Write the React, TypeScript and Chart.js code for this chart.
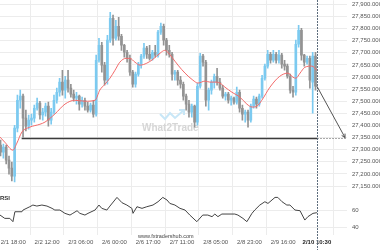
import React, { useEffect, useRef } from "react";
import { Chart, registerables } from "chart.js";
Chart.register(...registerables);

// ---- data ----
const timeLabels = ["2/1 18:00", "2/2 12:00", "2/3 06:00", "2/6 00:00", "2/6 17:00", "2/7 11:00", "2/8 05:00", "2/8 23:00", "2/9 16:00", "2/10 10:30"];
const timeLabelIndex = [4.5, 16.5, 28.5, 40.5, 52.5, 64.5, 76.5, 88.5, 100.5, 112.5];

const opens = [27319, 27290, 27311, 27257, 27224, 27191, 27389, 27504, 27521, 27430, 27397, 27422, 27430, 27471, 27492, 27443, 27455, 27480, 27422, 27455, 27504, 27537, 27579, 27546, 27587, 27554, 27529, 27513, 27521, 27488, 27504, 27480, 27463, 27484, 27447, 27669, 27731, 27649, 27587, 27752, 27842, 27760, 27809, 27768, 27731, 27702, 27677, 27620, 27570, 27612, 27653, 27686, 27719, 27694, 27677, 27702, 27690, 27785, 27809, 27752, 27710, 27694, 27612, 27620, 27587, 27570, 27521, 27488, 27455, 27480, 27414, 27562, 27686, 27661, 27504, 27546, 27579, 27603, 27579, 27554, 27521, 27529, 27504, 27513, 27496, 27537, 27471, 27447, 27455, 27422, 27480, 27509, 27488, 27521, 27595, 27645, 27694, 27669, 27694, 27669, 27690, 27653, 27645, 27603, 27546, 27537, 27735, 27793, 27690, 27661, 27677, 27579, 27686];
const highs = [27340, 27323, 27319, 27274, 27249, 27401, 27525, 27546, 27529, 27463, 27443, 27447, 27484, 27513, 27500, 27471, 27492, 27496, 27471, 27525, 27554, 27595, 27628, 27603, 27628, 27570, 27546, 27537, 27525, 27517, 27513, 27496, 27492, 27504, 27690, 27760, 27743, 27661, 27772, 27867, 27855, 27834, 27846, 27776, 27735, 27710, 27690, 27628, 27620, 27661, 27694, 27739, 27727, 27731, 27710, 27731, 27793, 27822, 27818, 27760, 27731, 27702, 27628, 27628, 27603, 27579, 27529, 27504, 27488, 27484, 27574, 27698, 27694, 27669, 27554, 27587, 27612, 27636, 27595, 27566, 27537, 27537, 27521, 27517, 27558, 27546, 27484, 27463, 27463, 27488, 27521, 27517, 27529, 27607, 27653, 27710, 27702, 27710, 27702, 27710, 27698, 27669, 27653, 27612, 27562, 27752, 27813, 27801, 27694, 27686, 27686, 27702, 27702];
const lows = [27274, 27265, 27241, 27199, 27171, 27167, 27373, 27471, 27352, 27377, 27385, 27401, 27414, 27463, 27426, 27422, 27438, 27397, 27405, 27447, 27492, 27521, 27525, 27513, 27537, 27517, 27500, 27488, 27463, 27476, 27463, 27455, 27455, 27434, 27438, 27661, 27620, 27566, 27570, 27743, 27731, 27752, 27752, 27710, 27682, 27661, 27607, 27558, 27558, 27603, 27636, 27677, 27677, 27669, 27669, 27682, 27682, 27776, 27731, 27690, 27682, 27587, 27587, 27566, 27554, 27504, 27463, 27434, 27434, 27393, 27401, 27554, 27645, 27480, 27463, 27529, 27554, 27566, 27546, 27513, 27504, 27492, 27484, 27488, 27488, 27455, 27422, 27414, 27393, 27414, 27471, 27471, 27480, 27513, 27587, 27636, 27657, 27661, 27657, 27657, 27636, 27628, 27595, 27533, 27517, 27525, 27723, 27669, 27645, 27653, 27554, 27451, 27546];
const closes = [27290, 27311, 27257, 27224, 27191, 27389, 27504, 27521, 27430, 27397, 27422, 27430, 27471, 27492, 27443, 27455, 27480, 27422, 27455, 27504, 27537, 27579, 27546, 27587, 27554, 27529, 27513, 27521, 27488, 27504, 27480, 27463, 27484, 27447, 27669, 27731, 27649, 27587, 27752, 27842, 27760, 27809, 27768, 27731, 27702, 27677, 27620, 27570, 27612, 27653, 27686, 27719, 27694, 27677, 27702, 27690, 27785, 27809, 27752, 27710, 27694, 27612, 27620, 27587, 27570, 27521, 27488, 27455, 27480, 27414, 27562, 27686, 27661, 27504, 27546, 27579, 27603, 27579, 27554, 27521, 27529, 27504, 27513, 27496, 27537, 27471, 27447, 27455, 27422, 27480, 27509, 27488, 27521, 27595, 27645, 27694, 27669, 27694, 27669, 27690, 27653, 27645, 27603, 27546, 27537, 27735, 27793, 27690, 27661, 27677, 27587, 27686, 27562];

const maX = [-0.2, 1.5, 4.4, 5.8, 7.6, 10.4, 14, 15.8, 19.3, 22.9, 26.4, 30, 33.6, 35.3, 37.1, 38.9, 40.7, 42.4, 44.6, 46, 47.8, 49.6, 52, 54.2, 56.7, 58.4, 59.5, 60.9, 63.1, 65.6, 68.4, 70.2, 72.7, 74.4, 76.2, 78, 79.8, 82.3, 85.1, 87.6, 89.4, 91.2, 92.9, 95.8, 99.3, 102.2, 104, 105, 106.5, 108.2, 110.7, 112.5];
const maValues = [27352, 27331, 27298, 27327, 27373, 27393, 27405, 27414, 27447, 27488, 27504, 27500, 27504, 27546, 27570, 27595, 27628, 27661, 27677, 27677, 27661, 27649, 27657, 27673, 27698, 27710, 27702, 27682, 27649, 27616, 27587, 27575, 27583, 27579, 27579, 27575, 27558, 27537, 27517, 27488, 27476, 27480, 27504, 27558, 27603, 27616, 27599, 27595, 27616, 27640, 27645, 27628];

const rsiX = [-0.2, 1.5, 3.3, 4.4, 5.1, 7.6, 8.0, 10.4, 11.5, 12.9, 14.7, 16.5, 18.3, 19.3, 21.1, 22.9, 24.7, 25.7, 27.2, 28.2, 30, 31.1, 33.6, 35, 36, 37.8, 38.9, 41.4, 43.2, 44.9, 46.7, 47.1, 48.5, 50.3, 52, 54.2, 56, 57.7, 59.2, 60.2, 62, 63.8, 65.6, 67.3, 69.8, 71.9, 73.7, 75.2, 76.2, 77.3, 78.7, 83.3, 84.4, 86.2, 87.6, 89.4, 90.4, 92.2, 94, 95.1, 97.6, 98.6, 100.1, 101.8, 102.9, 104.7, 106.5, 108.2, 109.3, 111.1, 112.5];
const rsiValues = [54.1, 50.2, 50.2, 46.3, 58, 58, 60, 63.9, 65.9, 64.7, 65.9, 64.7, 62, 60, 60, 56.1, 54.1, 56.1, 59.2, 56.1, 54.1, 56.1, 60, 65.9, 62, 60, 64.7, 74.9, 68.6, 65.9, 62, 56.1, 63.9, 62, 63.9, 65.9, 69.8, 74.9, 71.8, 67.8, 65.9, 62, 60, 54.1, 46.3, 54.1, 54.1, 52.2, 55.3, 52.2, 55.3, 55.3, 54.1, 50.2, 46.3, 56.1, 60, 65.9, 69.8, 67.8, 74.9, 74.9, 69.8, 65.9, 65.9, 60, 59.2, 48.2, 52.2, 56.1, 56.9];

const priceTicks = [27150, 27200, 27250, 27300, 27350, 27400, 27450, 27500, 27550, 27600, 27650, 27700, 27750, 27800, 27850, 27900];
const rsiTicks = [40, 60];

const supportLevel = 27350;
const supportStartIndex = 7.5;
const nowIndex = 112.5;
const projectionEndIndex = 122.5;

const UP = "#7ccaf0";
const DOWN = "#939393";
const FONT = "'Liberation Sans', Arial, sans-serif";

export default function App() {
  const ref = useRef<HTMLCanvasElement>(null);

  useEffect(() => {
    const canvas = ref.current!;
    Chart.defaults.font.family = FONT;
    const colors = closes.map((c, i) => (c >= opens[i] ? UP : DOWN));

    const overlay = {
      id: "overlay",
      beforeDatasetsDraw(chart: any) {
        const { ctx, chartArea: a, scales } = chart;
        const rs = scales.yRsi;
        ctx.save();
        ctx.strokeStyle = "#ececec";
        ctx.lineWidth = 1;
        rsiTicks.forEach((v) => {
          const y = Math.round(rs.getPixelForValue(v)) + 0.5;
          ctx.beginPath();
          ctx.moveTo(a.left, y);
          ctx.lineTo(a.right, y);
          ctx.stroke();
        });
        // watermark
        ctx.strokeStyle = "#c8e7f7";
        ctx.lineWidth = 2;
        ctx.beginPath();
        ctx.moveTo(160, 114);
        ctx.lineTo(165, 119);
        ctx.lineTo(170, 113);
        ctx.lineTo(175, 118);
        ctx.lineTo(184, 110);
        ctx.stroke();
        ctx.beginPath();
        ctx.moveTo(179, 110);
        ctx.lineTo(184, 110);
        ctx.lineTo(184, 115);
        ctx.stroke();
        ctx.font = `bold 10px ${FONT}`;
        ctx.fillStyle = "#d6d6d6";
        ctx.textBaseline = "alphabetic";
        ctx.fillText("What2Trade", 142, 131);
        ctx.restore();
      },
      afterDatasetsDraw(chart: any) {
        const { ctx, chartArea: a, scales } = chart;
        const xs = scales.x, ys = scales.y, rs = scales.yRsi;
        const sy = Math.round(ys.getPixelForValue(supportLevel)) + 0.5;
        const xNow = Math.round(xs.getPixelForValue(nowIndex)) + 0.5;
        ctx.save();
        // support line
        ctx.strokeStyle = "#3c3c3c";
        ctx.lineWidth = 1.5;
        ctx.beginPath();
        ctx.moveTo(xs.getPixelForValue(supportStartIndex), sy);
        ctx.lineTo(xNow, sy);
        ctx.stroke();
        ctx.lineWidth = 1;
        ctx.setLineDash([1, 2]);
        ctx.strokeStyle = "#555";
        ctx.beginPath();
        ctx.moveTo(xNow, sy);
        ctx.lineTo(a.right, sy);
        ctx.stroke();
        // now line
        ctx.strokeStyle = "#5d6d7d";
        ctx.setLineDash([2, 1]);
        ctx.beginPath();
        ctx.moveTo(xNow, 0);
        ctx.lineTo(xNow, chart.height);
        ctx.stroke();
        ctx.setLineDash([]);
        // projection
        const px0 = xs.getPixelForValue(nowIndex);
        const py0 = ys.getPixelForValue(closes[closes.length - 1]);
        const px1 = xs.getPixelForValue(projectionEndIndex);
        const py1 = ys.getPixelForValue(supportLevel);
        ctx.strokeStyle = "#555";
        ctx.lineWidth = 1;
        ctx.beginPath();
        ctx.moveTo(px0, py0);
        ctx.lineTo(px1, py1);
        ctx.stroke();
        const ang = Math.atan2(py1 - py0, px1 - px0);
        ctx.beginPath();
        ctx.moveTo(px1 - 4 * Math.cos(ang - 0.5), py1 - 4 * Math.sin(ang - 0.5));
        ctx.lineTo(px1, py1);
        ctx.lineTo(px1 - 4 * Math.cos(ang + 0.5), py1 - 4 * Math.sin(ang + 0.5));
        ctx.stroke();
        // rsi labels
        ctx.font = `6px ${FONT}`;
        ctx.fillStyle = "#555";
        ctx.textAlign = "left";
        ctx.textBaseline = "middle";
        rsiTicks.forEach((v) => ctx.fillText(String(v), a.right + 5, rs.getPixelForValue(v)));
        ctx.font = `bold 6px ${FONT}`;
        ctx.fillStyle = "#333";
        ctx.fillText("RSI", 0, 198);
        ctx.font = `5.5px ${FONT}`;
        ctx.fillStyle = "#444";
        ctx.fillText("www.fxtradershub.com", 138, 236);
        ctx.restore();
      },
    };

    const chart = new Chart(canvas, {
      type: "bar",
      data: {
        datasets: [
          {
            type: "line",
            label: "MA",
            data: maX.map((x, i) => ({ x, y: maValues[i] })),
            borderColor: "#f26a6a",
            borderWidth: 1,
            pointRadius: 0,
            cubicInterpolationMode: "monotone",
            yAxisID: "y",
            order: 0,
          } as any,
          {
            type: "line",
            label: "RSI",
            data: rsiX.map((x, i) => ({ x, y: rsiValues[i] })),
            borderColor: "#444",
            borderWidth: 1,
            pointRadius: 0,
            tension: 0,
            yAxisID: "yRsi",
            order: 1,
          } as any,
          {
            type: "bar",
            label: "body",
            data: opens.map((o, i) => ({ x: i, y: [o, closes[i]] })),
            backgroundColor: colors,
            barThickness: 2,
            grouped: false,
            yAxisID: "y",
            order: 2,
          } as any,
          {
            type: "bar",
            label: "wick",
            data: highs.map((h, i) => ({ x: i, y: [lows[i], h] })),
            backgroundColor: colors,
            barThickness: 1,
            grouped: false,
            yAxisID: "y",
            order: 3,
          } as any,
        ],
      },
      options: {
        responsive: false,
        devicePixelRatio: 1,
        animation: false,
        layout: { padding: 0 },
        plugins: { legend: { display: false }, tooltip: { enabled: false } },
        scales: {
          x: {
            type: "linear",
            min: -0.2,
            max: 123.2,
            offset: false,
            afterBuildTicks: (s: any) => {
              s.ticks = timeLabelIndex.map((v) => ({ value: v }));
            },
            afterFit: (s: any) => {
              s.height = 15;
            },
            ticks: {
              autoSkip: false,
              maxRotation: 0,
              padding: 0,
              callback: (_v: any, i: number) => timeLabels[i],
              font: (c: any) => ({ size: 6, weight: c.index === timeLabels.length - 1 ? "bold" : "normal", lineHeight: 1 }),
              color: (c: any) => (c.index === timeLabels.length - 1 ? "#222" : "#555"),
            },
            grid: {
              color: (c: any) => (c.index === timeLabels.length - 1 ? "rgba(0,0,0,0)" : "#ececec"),
              drawTicks: true,
              tickLength: 4,
              tickColor: "rgba(0,0,0,0)",
            },
            border: { display: false },
          },
          y: {
            type: "linear",
            position: "right",
            min: 26948,
            max: 27916.5,
            afterBuildTicks: (s: any) => {
              s.ticks = priceTicks.map((v) => ({ value: v }));
            },
            afterFit: (s: any) => {
              s.width = 33;
            },
            ticks: {
              padding: 0,
              font: { size: 6, lineHeight: 0.1 },
              color: "#555",
              callback: (v: any) =>
                Number(v).toLocaleString("en-US", { minimumFractionDigits: 3, maximumFractionDigits: 3 }),
            },
            grid: { color: "#ececec", drawTicks: true, tickLength: 5, tickColor: "rgba(0,0,0,0)" },
            border: { display: false },
          },
          yRsi: {
            axis: "y",
            type: "linear",
            position: "right",
            display: false,
            min: 30.6,
            max: 307.1,
          },
        },
      } as any,
      plugins: [overlay],
    });
    return () => chart.destroy();
  }, []);

  return (
    <div style={{ position: "fixed", left: 0, top: 0, width: 380, height: 250, background: "#fff" }}>
      <canvas ref={ref} width={380} height={250} style={{ display: "block" }} />
    </div>
  );
}
